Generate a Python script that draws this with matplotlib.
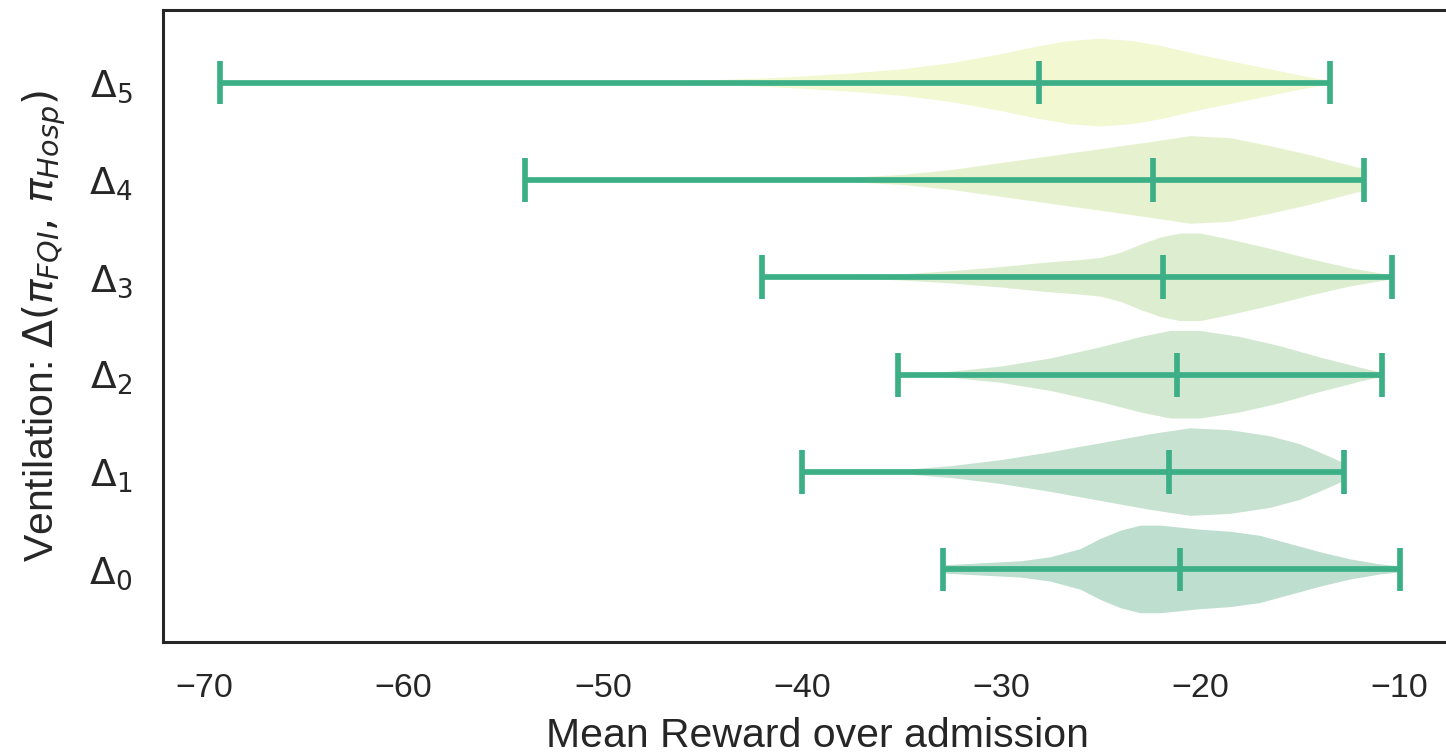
import numpy as np
import matplotlib
matplotlib.use("Agg")
from matplotlib import pyplot as plt

# rows from bottom (delta_0) to top (delta_5)
labels = [r"$\Delta_0$", r"$\Delta_1$", r"$\Delta_2$", r"$\Delta_3$", r"$\Delta_4$", r"$\Delta_5$"]
mins = [-32.9, -40.0, -35.2, -42.0, -53.9, -69.2]
medians = [-21.0, -21.6, -21.2, -21.9, -22.4, -28.1]
maxs = [-10.0, -12.8, -10.9, -10.4, -11.8, -13.5]

# density profiles (reward, relative half width)
grid_d0 = [-32.9, -31, -29, -27.5, -26, -25, -24, -23, -22, -21, -20, -18.5, -17, -15.5, -14, -12.5, -11, -10.0]
dens_d0 = [4, 6, 8, 12, 20, 30, 38, 43, 43, 41, 39, 37, 33, 25, 17, 10, 5, 3]
grid_d1 = [-40.0, -37.5, -35, -32.5, -30, -27.5, -25, -22.5, -20.5, -18.5, -16.5, -15, -13.8, -12.8]
dens_d1 = [0, 0.5, 2, 6, 12, 20, 29, 38, 44, 42, 36, 28, 18, 9]
grid_d2 = [-35.2, -32.5, -30, -27.5, -25, -23, -21.5, -20, -18, -16, -14, -12, -10.9]
dens_d2 = [0.5, 3, 8, 16, 27, 37, 43, 43, 37, 28, 17, 7, 2]
grid_d3 = [-42.0, -40, -37.5, -35, -32.5, -30, -28, -26, -25, -24, -23, -22, -21, -20, -18.5, -16.5, -14.5, -12.5, -10.4]
dens_d3 = [0, 0.5, 1.5, 3, 6, 10, 14, 17, 19, 24, 32, 39, 43, 43, 37, 28, 18, 9, 2]
grid_d4 = [-53.9, -45, -40, -37.5, -35, -32.5, -30, -27.5, -25, -22.5, -20.5, -18.5, -16.5, -14.5, -13, -11.8]
dens_d4 = [0, 0, 1, 2.5, 5, 10, 17, 24, 31, 38, 44, 42, 34, 25, 17, 11]
grid_d5 = [-69.2, -60, -50, -45, -42, -40, -37.5, -35, -32.5, -30, -28, -26.5, -25, -23.5, -22, -20, -18, -16, -14.5, -13.5]
dens_d5 = [0, 0, 0.5, 2, 4, 6, 9, 13, 19, 28, 36, 41, 43, 41, 36, 27, 19, 11, 5, 2]

grids = [grid_d0, grid_d1, grid_d2, grid_d3, grid_d4, grid_d5]
dens = [dens_d0, dens_d1, dens_d2, dens_d3, dens_d4, dens_d5]

body_colors = ["#2a9462", "#48a266", "#70b666", "#91c662", "#afd762", "#d7e869"]
line_color = "#3daf87"

plt.rcParams["font.family"] = ["Liberation Sans", "DejaVu Sans"]
plt.rcParams["mathtext.fontset"] = "dejavusans"

fig = plt.figure(figsize=(14.46, 7.55), dpi=100)
ax = fig.add_axes([0.1125, 0.1497, 0.905, 0.837])

vpstats = []
for i in range(len(labels)):
    vpstats.append({
        "coords": np.array(grids[i], dtype=float),
        "vals": np.array(dens[i], dtype=float),
        "mean": medians[i],
        "median": medians[i],
        "min": mins[i],
        "max": maxs[i],
    })

positions = np.arange(len(labels))
parts = ax.violin(vpstats, positions=positions, orientation="horizontal", widths=0.9,
                  showextrema=True, showmedians=True)
for body, c in zip(parts["bodies"], body_colors):
    body.set_facecolor(c)
    body.set_edgecolor("none")
    body.set_alpha(0.3)
for key in ["cbars", "cmins", "cmaxes", "cmedians"]:
    parts[key].set_color(line_color)
    parts[key].set_linewidth(4.1)

# axes run past the right edge, as in the cropped original
ax.set_xlim(-72.1, -6.4)
ax.set_yticks(positions)
ax.set_yticklabels(labels)
ax.tick_params(axis="both", length=0, colors="#262626")
ax.tick_params(axis="x", pad=22, labelsize=24.5)
ax.tick_params(axis="y", pad=22, labelsize=27)
for s in ax.spines.values():
    s.set_linewidth(2.2)
    s.set_color("#262626")

ax.set_xlabel("Mean Reward over admission", fontsize=29.5, color="#262626", labelpad=10)
ax.set_ylabel(r"Ventilation: $\Delta(\pi_{FQI},\,\pi_{Hosp})$", fontsize=29.5, color="#262626", labelpad=14)

plt.savefig("out.png", dpi=100)
plt.close(fig)
